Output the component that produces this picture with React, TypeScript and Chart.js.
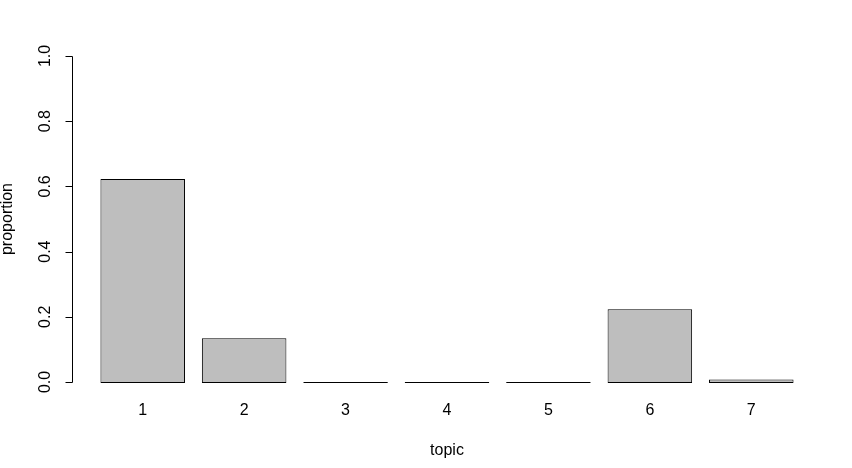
import React, { useEffect, useRef } from "react";
import { Chart, registerables } from "chart.js";

Chart.register(...registerables);

const categories = ["1", "2", "3", "4", "5", "6", "7"];
const proportions = [0.626, 0.137, 0, 0, 0, 0.226, 0.011];
const yTicks = [0, 0.2, 0.4, 0.6, 0.8, 1.0];
const yTickLabels = ["0.0", "0.2", "0.4", "0.6", "0.8", "1.0"];
const xTitle = "topic";
const yTitle = "proportion";

const FONT = '16px "Liberation Sans", Arial, sans-serif';

const axesPlugin = {
  id: "rAxes",
  afterDraw(chart: any) {
    const ctx = chart.ctx;
    const y = chart.scales.y;
    const x = chart.scales.x;
    const area = chart.chartArea;
    ctx.save();
    ctx.strokeStyle = "#000";
    ctx.fillStyle = "#000";
    ctx.lineWidth = 1;
    const axX = area.left - 19.5;
    const top = Math.round(y.getPixelForValue(yTicks[yTicks.length - 1])) - 0.5;
    const bot = Math.round(y.getPixelForValue(yTicks[0])) - 0.5;
    ctx.beginPath();
    ctx.moveTo(axX, top);
    ctx.lineTo(axX, bot);
    yTicks.forEach((v) => {
      const py = Math.round(y.getPixelForValue(v)) - 0.5;
      ctx.moveTo(axX, py);
      ctx.lineTo(axX - 7, py);
    });
    ctx.stroke();
    ctx.font = FONT;
    ctx.textAlign = "center";
    ctx.textBaseline = "middle";
    yTicks.forEach((v, i) => {
      const py = y.getPixelForValue(v) - 1;
      ctx.save();
      ctx.translate(axX - 27, py);
      ctx.rotate(-Math.PI / 2);
      ctx.fillText(yTickLabels[i], 0, 0);
      ctx.restore();
    });
    ctx.save();
    ctx.translate(8, (y.top + y.bottom) / 2 - 1);
    ctx.rotate(-Math.PI / 2);
    ctx.fillText(yTitle, 0, 0);
    ctx.restore();
    categories.forEach((c, i) => {
      const px = x.getPixelForValue(i);
      ctx.fillText(c, px, 411);
    });
    ctx.fillText(xTitle, (area.left + area.right) / 2, 451);
    ctx.restore();
  },
};

export default function App() {
  const ref = useRef<HTMLCanvasElement | null>(null);
  useEffect(() => {
    document.body.style.margin = "0";
    const canvas = ref.current!;
    const chart = new Chart(canvas, {
      type: "bar",
      data: {
        labels: categories,
        datasets: [
          {
            data: proportions,
            backgroundColor: "#BEBEBE",
            borderColor: "#000000",
            borderWidth: 1,
            borderSkipped: false,
            barPercentage: 1 / 1.2,
            categoryPercentage: 1,
            minBarLength: 1,
            clip: false as any,
          },
        ],
      },
      options: {
        responsive: false,
        animation: false,
        layout: { padding: { left: 92, right: 50, top: 57, bottom: 85 } },
        plugins: { legend: { display: false }, tooltip: { enabled: false } },
        scales: {
          x: { display: false, offset: true },
          y: { display: false, min: 0, max: 1 },
        },
      },
      plugins: [axesPlugin],
    });
    return () => chart.destroy();
  }, []);
  return (
    <div style={{ width: 852, height: 468, background: "#fff" }}>
      <canvas ref={ref} width={852} height={468} />
    </div>
  );
}
